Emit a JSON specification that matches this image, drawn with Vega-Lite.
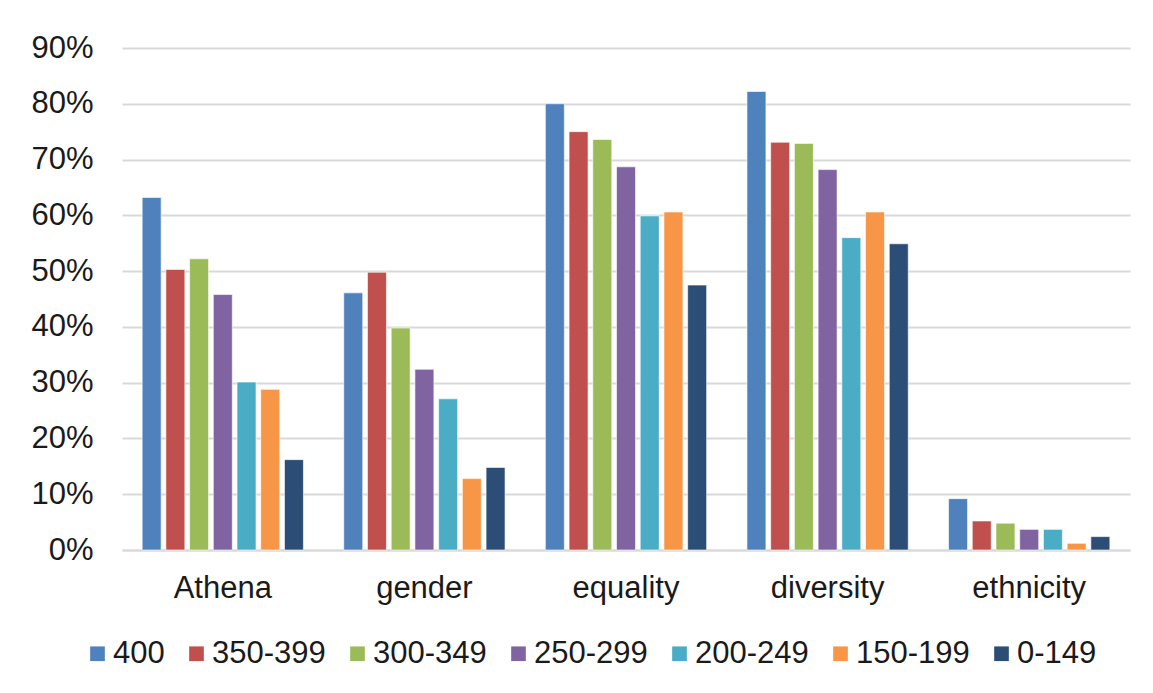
{
  "$schema": "https://vega.github.io/schema/vega-lite/v6.json",
  "width": 1008,
  "height": 502,
  "autosize": {"type": "none"},
  "padding": {"left": 122, "top": 48, "right": 23, "bottom": 143},
  "background": "white",
  "data": {
    "values": [
      {"term": "Athena", "band": "400", "share": 0.632},
      {"term": "Athena", "band": "350-399", "share": 0.503},
      {"term": "Athena", "band": "300-349", "share": 0.522},
      {"term": "Athena", "band": "250-299", "share": 0.458},
      {"term": "Athena", "band": "200-249", "share": 0.301},
      {"term": "Athena", "band": "150-199", "share": 0.288},
      {"term": "Athena", "band": "0-149", "share": 0.162},
      {"term": "gender", "band": "400", "share": 0.461},
      {"term": "gender", "band": "350-399", "share": 0.498},
      {"term": "gender", "band": "300-349", "share": 0.398},
      {"term": "gender", "band": "250-299", "share": 0.324},
      {"term": "gender", "band": "200-249", "share": 0.271},
      {"term": "gender", "band": "150-199", "share": 0.128},
      {"term": "gender", "band": "0-149", "share": 0.148},
      {"term": "equality", "band": "400", "share": 0.800},
      {"term": "equality", "band": "350-399", "share": 0.750},
      {"term": "equality", "band": "300-349", "share": 0.736},
      {"term": "equality", "band": "250-299", "share": 0.687},
      {"term": "equality", "band": "200-249", "share": 0.599},
      {"term": "equality", "band": "150-199", "share": 0.606},
      {"term": "equality", "band": "0-149", "share": 0.475},
      {"term": "diversity", "band": "400", "share": 0.822},
      {"term": "diversity", "band": "350-399", "share": 0.731},
      {"term": "diversity", "band": "300-349", "share": 0.729},
      {"term": "diversity", "band": "250-299", "share": 0.682},
      {"term": "diversity", "band": "200-249", "share": 0.560},
      {"term": "diversity", "band": "150-199", "share": 0.606},
      {"term": "diversity", "band": "0-149", "share": 0.549},
      {"term": "ethnicity", "band": "400", "share": 0.092},
      {"term": "ethnicity", "band": "350-399", "share": 0.052},
      {"term": "ethnicity", "band": "300-349", "share": 0.048},
      {"term": "ethnicity", "band": "250-299", "share": 0.037},
      {"term": "ethnicity", "band": "200-249", "share": 0.037},
      {"term": "ethnicity", "band": "150-199", "share": 0.012},
      {"term": "ethnicity", "band": "0-149", "share": 0.024}
    ]
  },
  "mark": {"type": "bar", "stroke": "white", "strokeWidth": 1, "strokeOpacity": 0.6},
  "encoding": {
    "x": {
      "field": "term",
      "type": "nominal",
      "sort": ["Athena", "gender", "equality", "diversity", "ethnicity"],
      "scale": {"paddingInner": 0.2, "paddingOuter": 0.1},
      "axis": {
        "title": null,
        "labelAngle": 0,
        "ticks": false,
        "domainColor": "#d9d9d9",
        "domainWidth": 2,
        "labelPadding": 23
      }
    },
    "xOffset": {
      "field": "band",
      "type": "nominal",
      "sort": ["400", "350-399", "300-349", "250-299", "200-249", "150-199", "0-149"],
      "scale": {"paddingInner": 0.2, "paddingOuter": 0}
    },
    "y": {
      "field": "share",
      "type": "quantitative",
      "scale": {"domain": [0, 0.9], "nice": false},
      "axis": {
        "title": null,
        "format": ".0%",
        "values": [0, 0.1, 0.2, 0.3, 0.4, 0.5, 0.6, 0.7, 0.8, 0.9],
        "domain": false,
        "ticks": false,
        "labelPadding": 29,
        "gridColor": "#d9d9d9",
        "gridWidth": 2
      }
    },
    "color": {
      "field": "band",
      "type": "nominal",
      "sort": ["400", "350-399", "300-349", "250-299", "200-249", "150-199", "0-149"],
      "scale": {
        "domain": ["400", "350-399", "300-349", "250-299", "200-249", "150-199", "0-149"],
        "range": ["#4f81bd", "#c0504d", "#9bbb59", "#8064a2", "#4bacc6", "#f79646", "#2c4d75"]
      },
      "legend": {
        "title": null,
        "orient": "none",
        "legendX": -40,
        "legendY": 590,
        "direction": "horizontal",
        "columns": 7,
        "symbolType": "square",
        "symbolSize": 215,
        "symbolStrokeWidth": 0,
        "labelOffset": 0,
        "columnPadding": 16
      }
    }
  },
  "config": {
    "view": {"stroke": null},
    "font": "Liberation Sans",
    "axis": {"labelFont": "Liberation Sans", "labelFontSize": 31, "labelColor": "#1a1a1a"},
    "legend": {"labelFont": "Liberation Sans", "labelFontSize": 31, "labelColor": "#1a1a1a", "labelLimit": 0}
  }
}
